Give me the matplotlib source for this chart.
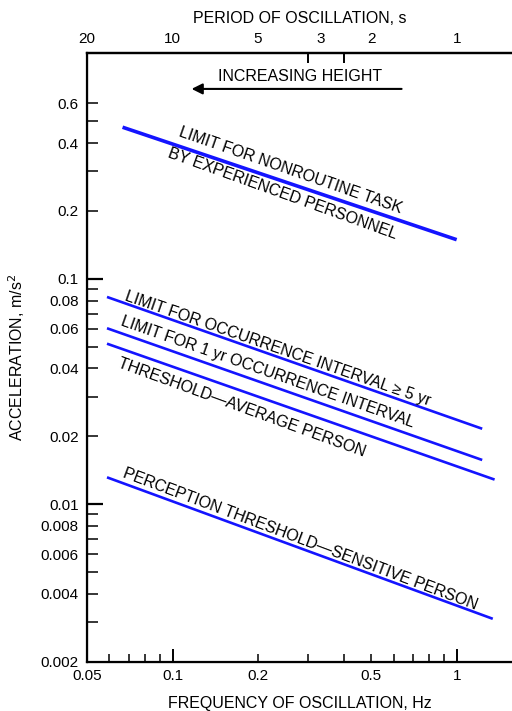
import numpy as np
import matplotlib
matplotlib.use("Agg")
import matplotlib.pyplot as plt
from matplotlib.ticker import FixedLocator, FixedFormatter, NullFormatter

plt.rcParams['font.family'] = ['Liberation Sans', 'DejaVu Sans']

# ---- data ----
line_names = [
    "LIMIT FOR NONROUTINE TASK\nBY EXPERIENCED PERSONNEL",
    "LIMIT FOR OCCURRENCE INTERVAL \u2265 5 yr",
    "LIMIT FOR 1 yr OCCURRENCE INTERVAL",
    "THRESHOLD\u2014AVERAGE PERSON",
    "PERCEPTION THRESHOLD\u2014SENSITIVE PERSON",
]
freq_start = [0.0667, 0.0588, 0.0588, 0.0588, 0.0588]
freq_end = [1.0, 1.23, 1.23, 1.36, 1.34]
acc_start = [0.47, 0.083, 0.0603, 0.0515, 0.01315]
acc_end = [0.149, 0.0216, 0.0157, 0.01285, 0.0031]

x_major = [0.1, 1.0]
x_minor = [0.05, 0.06, 0.07, 0.08, 0.09, 0.2, 0.3, 0.4, 0.5, 0.6, 0.7, 0.8, 0.9]
x_minor_labels = ['0.05', '', '', '', '', '0.2', '', '', '0.5', '', '', '', '']
x_major_labels = ['0.1', '1']

y_major = [0.01, 0.1]
y_major_labels = ['0.01', '0.1']
y_minor = [0.002, 0.003, 0.004, 0.005, 0.006, 0.007, 0.008, 0.009,
           0.02, 0.03, 0.04, 0.05, 0.06, 0.07, 0.08, 0.09,
           0.2, 0.3, 0.4, 0.5, 0.6]
y_minor_labels = ['0.002', '', '0.004', '', '0.006', '', '0.008', '',
                  '0.02', '', '0.04', '', '0.06', '', '0.08', '',
                  '0.2', '', '0.4', '', '0.6']

period_labels = ['20', '10', '5', '3', '2', '1']
period_values = [20, 10, 5, 3, 2, 1]
top_tick_freqs = [0.1, 0.2, 0.3, 0.4, 0.5, 1.0]

# ---- figure ----
fig = plt.figure(figsize=(5.12, 7.11), dpi=100)
ax = fig.add_axes([87/512, 1-661.7/711, 1-87/512, (661.7-53.3)/711])
ax.set_xscale('log')
ax.set_yscale('log')
ax.set_xlim(0.05, 1.566)
ax.set_ylim(0.002, 1.0)

blue = '#1414ff'
widths = [2.6, 1.9, 1.9, 1.9, 1.9]
for fs, fe, a0, a1, w in zip(freq_start, freq_end, acc_start, acc_end, widths):
    ax.plot([fs, fe], [a0, a1], color=blue, lw=w, solid_capstyle='butt')

# labels along lines
lab_kw = dict(fontsize=11.5, ha='center', va='center', rotation_mode='anchor')
ax.text(0.261, 0.303, "LIMIT FOR NONROUTINE TASK", rotation=-19.2, **lab_kw)
ax.text(0.2435, 0.237, "BY EXPERIENCED PERSONNEL", rotation=-19.8, **lab_kw)
ax.text(0.2355, 0.0491, line_names[1], rotation=-19.1, **lab_kw)
ax.text(0.2157, 0.0385, line_names[2], rotation=-19.3, **lab_kw)
ax.text(0.175, 0.0267, line_names[3], rotation=-20.0, **lab_kw)
ax.text(0.2807, 0.00702, line_names[4], rotation=-20.6, **lab_kw)

# arrow
ax.annotate('', xy=(0.1167, 0.695), xytext=(0.64, 0.695),
            arrowprops=dict(arrowstyle='-|>', color='black', lw=1.5,
                            mutation_scale=16, shrinkA=0, shrinkB=0))
ax.text(0.2806, 0.785, "INCREASING HEIGHT", fontsize=11.5, ha='center', va='center')

# spines
for s in ['left', 'bottom', 'top']:
    ax.spines[s].set_linewidth(1.6)
ax.spines['right'].set_visible(False)

# x ticks
ax.xaxis.set_major_locator(FixedLocator(x_major))
ax.xaxis.set_major_formatter(FixedFormatter(x_major_labels))
ax.xaxis.set_minor_locator(FixedLocator(x_minor))
ax.xaxis.set_minor_formatter(FixedFormatter(x_minor_labels))
ax.tick_params(axis='x', which='major', direction='in', length=9.4, width=1.4,
               labelsize=11, pad=5)
ax.tick_params(axis='x', which='minor', direction='in', length=5.8, width=1.1,
               labelsize=11, pad=5)

# y ticks
ax.yaxis.set_major_locator(FixedLocator(y_major))
ax.yaxis.set_major_formatter(FixedFormatter(y_major_labels))
ax.yaxis.set_minor_locator(FixedLocator(y_minor))
ax.yaxis.set_minor_formatter(FixedFormatter(y_minor_labels))
ax.tick_params(axis='y', which='major', direction='in', length=11.5, width=1.6,
               labelsize=11, pad=6)
ax.tick_params(axis='y', which='minor', direction='in', length=7.9, width=1.1,
               labelsize=11, pad=6)

ax.set_xlabel("FREQUENCY OF OSCILLATION, Hz", fontsize=11.5)
ax.xaxis.set_label_coords(0.5, -0.056)
ax.set_ylabel("ACCELERATION, m/s$^2$", fontsize=11.5)
ax.yaxis.set_label_coords(-0.141, 0.5)

# top axis: period
ax2 = ax.twiny()
ax2.set_xscale('log')
ax2.set_xlim(ax.get_xlim())
ax2.spines['right'].set_visible(False)
ax2.spines['top'].set_linewidth(1.6)
ax2.xaxis.set_major_locator(FixedLocator([1.0/p for p in period_values]))
ax2.xaxis.set_major_formatter(FixedFormatter(period_labels))
ax2.xaxis.set_minor_locator(FixedLocator(top_tick_freqs))
ax2.xaxis.set_minor_formatter(NullFormatter())
ax2.tick_params(axis='x', which='major', length=0, labelsize=11, pad=5)
ax2.tick_params(axis='x', which='minor', direction='in', length=7.2, width=1.4)
ax2.set_xlabel("PERIOD OF OSCILLATION, s", fontsize=11.5, labelpad=7)

fig.savefig("out.png", dpi=100)
